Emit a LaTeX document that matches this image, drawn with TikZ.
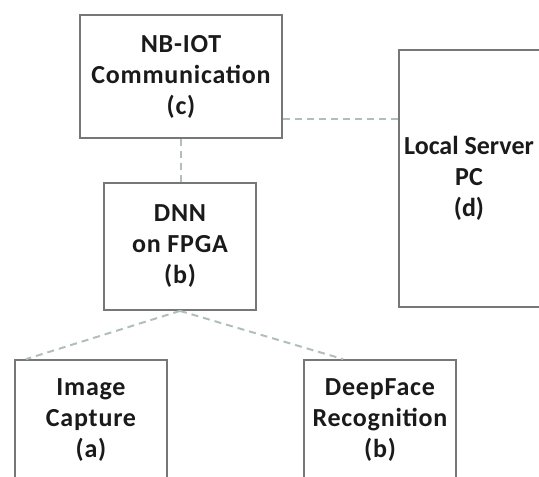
\documentclass[tikz,border=0pt]{standalone}
\usepackage{fontspec}
\setmainfont{Carlito}[LetterSpace=3]
\newfontfamily\tightfont{Carlito}[LetterSpace=0]
\begin{document}
\begin{tikzpicture}[x=1pt,y=-1pt,
  box/.style={draw=boxgray, line width=1.8pt, text=textdark, align=center,
    font=\bfseries\fontsize{26}{31}\selectfont, inner sep=0pt},
  label/.style={text=textdark, align=center,
    font=\tightfont\bfseries\fontsize{26}{31}\selectfont, inner sep=0pt},
  link/.style={draw=linkgray, line width=2pt, dash pattern=on 7pt off 5pt}]
\definecolor{boxgray}{HTML}{777777}
\definecolor{linkgray}{HTML}{B0BEBE}
\definecolor{textdark}{HTML}{1A1A1A}
\useasboundingbox (0,0) rectangle (539,477);
\clip (0,0) rectangle (539,477);
\node[box, minimum width=202pt, minimum height=123pt] (nbiot) at (181,76.5) {NB-IOT\\Communication\\(c)};
\node[box, minimum width=152pt, minimum height=127pt] (dnn) at (180,246.5) {DNN\\on FPGA\\(b)};
\node[box, minimum width=146pt, minimum height=257pt] (server) at (472,178.5) {};
\node[label] (servertext) at ([xshift=-3pt]server.center) {Local Server\\PC\\(d)};
\node[box, minimum width=152pt, minimum height=120pt] (img) at (91,420) {Image\\Capture\\(a)};
\node[box, minimum width=152pt, minimum height=120pt] (face) at (380,420) {DeepFace\\Recognition\\(b)};
\draw[link] (nbiot.south) -- (nbiot.south |- dnn.north);
\coordinate (c1) at ([yshift=20pt]nbiot.south east);
\draw[link] (c1) -- (c1 -| server.west);
\draw[link] (dnn.south) -- ([xshift=12pt]img.north west);
\draw[link] (dnn.south) -- ([xshift=40pt]face.north west);
\end{tikzpicture}
\end{document}
